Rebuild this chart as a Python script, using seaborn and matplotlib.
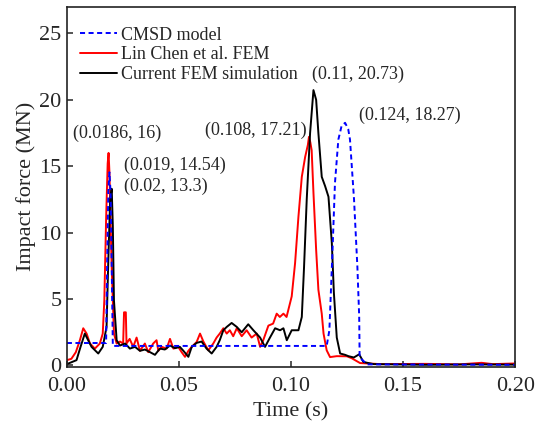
import numpy as np
import pandas as pd
import matplotlib
matplotlib.use('Agg')
import matplotlib.pyplot as plt
import seaborn as sns

# CMSD model (blue dashed)
cmsd_t = [0, 0.0175, 0.018, 0.0185, 0.019, 0.0195, 0.02, 0.0205, 0.1159, 0.1171,
          0.1184, 0.1196, 0.1211, 0.1225, 0.1241, 0.1255, 0.1263, 0.1281, 0.1296, 0.1304,
          0.1306, 0.134, 0.2]
cmsd_f = [1.69, 1.69, 8.0, 13.2, 14.54, 13.0, 7.5, 1.47, 1.47, 2.65,
          8.2, 13.75, 17.0, 18.0, 18.27, 17.8, 17.0, 12.5, 7.4, 3.7,
          0.6, 0.08, 0.05]

# Lin Chen et al. FEM (red)
lin_t = [0, 0.002, 0.004, 0.0058, 0.0073, 0.0088, 0.0103, 0.0125, 0.0147, 0.016,
         0.0167, 0.0175, 0.0182, 0.0186, 0.019, 0.0196, 0.02, 0.021, 0.0222, 0.0237,
         0.0251, 0.0255, 0.0263, 0.0266, 0.028, 0.0296, 0.0311, 0.0326, 0.0348, 0.0363,
         0.0385, 0.04, 0.0408, 0.0423, 0.0445, 0.046, 0.0475, 0.0497, 0.0512, 0.0527,
         0.0542, 0.0557, 0.0579, 0.0594, 0.0609, 0.0631, 0.0653, 0.0668, 0.0682, 0.0698,
         0.0713, 0.0727, 0.0742, 0.0758, 0.078, 0.0802, 0.0824, 0.0847, 0.0862, 0.0876,
         0.0899, 0.092, 0.0936, 0.095, 0.0966, 0.098, 0.1003, 0.1018, 0.1033, 0.1048,
         0.1063, 0.1075, 0.108, 0.1086, 0.1092, 0.11, 0.1112, 0.1122, 0.1137, 0.1145,
         0.1159, 0.1174, 0.1204, 0.1249, 0.127, 0.1308, 0.14, 0.16, 0.175, 0.185,
         0.19, 0.2]
lin_f = [0.4, 0.5, 1.0, 1.9, 2.8, 2.4, 1.65, 1.27, 1.65, 2.4,
         4.9, 11.0, 15.2, 16.0, 14.5, 10.0, 7.4, 2.4, 1.65, 1.8,
         1.65, 4.0, 4.0, 1.65, 2.0, 1.4, 2.1, 1.1, 1.65, 1.0,
         1.65, 1.9, 1.1, 1.4, 1.27, 2.0, 1.27, 1.4, 1.0, 0.65,
         1.1, 1.4, 1.77, 2.4, 1.8, 1.14, 1.65, 2.1, 2.4, 2.8,
         2.4, 2.65, 2.2, 2.8, 2.2, 2.65, 2.1, 2.4, 1.4, 1.9,
         3.0, 3.15, 3.9, 3.65, 3.9, 3.65, 5.2, 7.7, 11.2, 14.2,
         15.7, 16.6, 17.21, 16.8, 16.2, 13.0, 8.7, 5.7, 3.9, 2.4,
         1.14, 0.63, 0.7, 0.69, 0.55, 0.18, 0.1, 0.12, 0.08, 0.2,
         0.1, 0.15]

# Current FEM simulation (black)
cur_t = [0, 0.0043, 0.0061, 0.008, 0.0095, 0.011, 0.014, 0.016, 0.0177, 0.0185,
         0.0193, 0.02, 0.0205, 0.021, 0.0222, 0.0237, 0.026, 0.0281, 0.0304, 0.0326,
         0.0348, 0.0371, 0.0393, 0.0415, 0.0437, 0.046, 0.0482, 0.0504, 0.052, 0.0542,
         0.0557, 0.0579, 0.0601, 0.0623, 0.0646, 0.0668, 0.0682, 0.0698, 0.0713, 0.0735,
         0.0758, 0.078, 0.0809, 0.0832, 0.0862, 0.0884, 0.0906, 0.0929, 0.0951, 0.0966,
         0.0981, 0.1003, 0.1033, 0.1048, 0.1058, 0.107, 0.1085, 0.11, 0.1112, 0.1122,
         0.1137, 0.1152, 0.1167, 0.1182, 0.1191, 0.1204, 0.1219, 0.1241, 0.1256, 0.128,
         0.1304, 0.1323, 0.1368, 0.16, 0.18, 0.2]
cur_f = [0.1, 0.4, 1.4, 2.4, 1.9, 1.4, 0.9, 1.4, 2.9, 8.0,
         12.5, 13.3, 10.5, 4.9, 1.9, 1.5, 1.65, 1.27, 1.4, 1.1,
         1.2, 1.0, 0.8, 1.27, 1.2, 1.5, 1.3, 1.4, 1.1, 0.65,
         1.4, 1.7, 1.8, 1.27, 0.9, 1.4, 1.9, 2.65, 2.9, 3.2,
         2.9, 2.5, 3.1, 2.65, 2.1, 1.4, 2.1, 2.8, 2.65, 2.8,
         1.9, 2.65, 2.65, 3.65, 7.4, 12.5, 17.5, 20.73, 20.0, 17.5,
         14.2, 13.5, 12.7, 9.2, 5.5, 2.1, 0.9, 0.8, 0.7, 0.6,
         0.84, 0.26, 0.1, 0.05, 0.08, 0.06]

# peak labels: text and where it sits (data coords of text's left edge)
peak_labels = ['(0.0186, 16)', '(0.019, 14.54)', '(0.02, 13.3)',
               '(0.108, 17.21)', '(0.11, 20.73)', '(0.124, 18.27)']
label_x = [0.0026, 0.0254, 0.0254, 0.0616, 0.1094, 0.1304]
label_y = [17.5, 15.1, 13.45, 17.7, 21.9, 18.8]

sns.set_theme(style='ticks')
plt.rcParams['font.family'] = ['Liberation Serif', 'DejaVu Serif']

fig = plt.figure(figsize=(5.35, 4.26), dpi=100)
ax = fig.add_axes([0.125, 0.139, 0.838, 0.845])

df_lin = pd.DataFrame({'t': lin_t, 'F': lin_f})
df_cur = pd.DataFrame({'t': cur_t, 'F': cur_f})
df_cmsd = pd.DataFrame({'t': cmsd_t, 'F': cmsd_f})

sns.lineplot(data=df_lin, x='t', y='F', ax=ax, color='#ff0000', lw=1.4,
             estimator=None, label='Lin Chen et al. FEM')
sns.lineplot(data=df_cur, x='t', y='F', ax=ax, color='black', lw=1.4,
             estimator=None, label='Current FEM simulation')
sns.lineplot(data=df_cmsd, x='t', y='F', ax=ax, color='#0000ff', lw=1.4,
             estimator=None, label='CMSD model')
ax.lines[-1].set_dashes([2.6, 1.8])

for txt, x, y in zip(peak_labels, label_x, label_y):
    ax.text(x, y, txt, fontsize=13, ha='left', va='center')

ax.set_xlim(0, 0.2)
ax.set_ylim(-0.1, 27)
ax.set_xticks([0, 0.05, 0.10, 0.15, 0.20])
ax.set_xticklabels(['0.00', '0.05', '0.10', '0.15', '0.20'])
ax.set_yticks([0, 5, 10, 15, 20, 25])
ax.tick_params(direction='in', length=4, width=1.1, labelsize=16)
ax.tick_params(axis='x', pad=7)
ax.tick_params(axis='y', pad=4)
for s in ax.spines.values():
    s.set_linewidth(1.2)
    s.set_color('#222222')
ax.set_xlabel('Time (s)', fontsize=16, labelpad=5)
ax.set_ylabel('Impact force (MN)', fontsize=16, labelpad=2)

h, l = ax.get_legend_handles_labels()
order = [2, 0, 1]
ax.legend([h[i] for i in order], [l[i] for i in order], loc='upper left',
          bbox_to_anchor=(0.0, 0.98), frameon=False, fontsize=13,
          handlelength=2.1, handletextpad=0.2, labelspacing=0.15, borderaxespad=0.3)

fig.savefig('out.png', dpi=100)
